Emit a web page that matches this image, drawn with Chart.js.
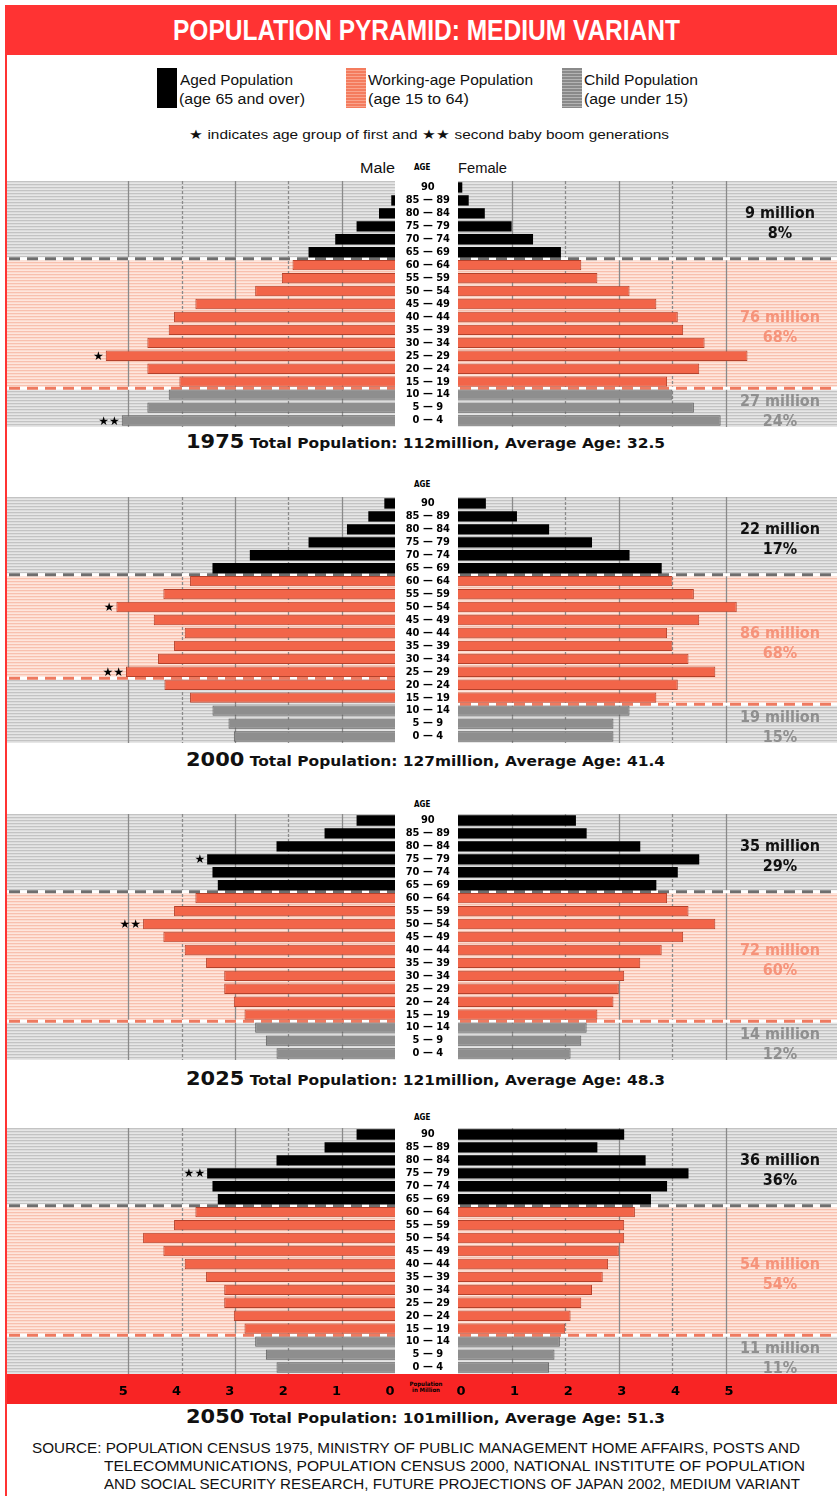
<!DOCTYPE html>
<html lang="en">
<head>
<meta charset="UTF-8">
<title>Population Pyramid: Medium Variant</title>
<style>
  body { margin: 0; width: 837px; height: 1496px; background: #fff; position: relative; overflow: hidden;
         font-family: 'Liberation Sans Narrow', 'Liberation Sans', sans-serif; }
  .abs { position: absolute; white-space: nowrap; line-height: 1; transform-origin: 0 50%; }
  .box { position: absolute; }
  #titlebar { position: absolute; left: 5px; top: 5px; width: 832px; height: 50px; background: #f33; }
  #leftrule { position: absolute; left: 5px; top: 5px; width: 2px; height: 1491px; background: #f33; }
  #axisStrip { position: absolute; left: 7px; top: 1374px; width: 830px; height: 30px; background: #f82424; }
  .title { color: #fff; font-weight: bold; font-size: 30px; }
  .leg { font-size: 14px; color: #111; }
  .swatch { position: absolute; top: 68px; width: 20px; height: 40px; }
  .age { font-family: 'DejaVu Sans Condensed', 'DejaVu Sans', sans-serif; font-weight: bold; font-size: 8px; }
  .cap { font-family: 'DejaVu Sans', sans-serif; font-weight: bold; font-size: 14px; color: #111; }
  .cap b { font-size: 19px; }
  .src { font-size: 15px; color: #111; }
  .pim { font-family: 'DejaVu Sans Condensed', sans-serif; font-weight: bold; font-size: 6px; text-align: center; width: 40px; }
</style>
</head>
<body>
  <div id="titlebar"></div>
  <div id="leftrule"></div>
  <div class="abs title" data-w="507" style="left:173px; top:15px;">POPULATION PYRAMID: MEDIUM VARIANT</div>

  <div class="swatch" style="left:157px; background:#000;"></div>
  <div class="abs leg" data-w="113" style="left:180px; top:73px;">Aged Population</div>
  <div class="abs leg" data-w="126" style="left:179px; top:92px;">(age 65 and over)</div>
  <div class="swatch" style="left:346px; background:repeating-linear-gradient(#f47c5e 0 2px, #f9a48d 2px 3px);"></div>
  <div class="abs leg" data-w="165" style="left:368px; top:73px;">Working-age Population</div>
  <div class="abs leg" data-w="101" style="left:368px; top:92px;">(age 15 to 64)</div>
  <div class="swatch" style="left:562px; background:repeating-linear-gradient(#8a8a8a 0 2px, #b4b4b4 2px 3px);"></div>
  <div class="abs leg" data-w="114" style="left:584px; top:73px;">Child Population</div>
  <div class="abs leg" data-w="104" style="left:584px; top:92px;">(age under 15)</div>
  <div class="abs leg" data-w="480" style="left:189px; top:128px; font-size:13px;">★ indicates age group of first and ★★ second baby boom generations</div>

  <div class="abs leg" data-w="35" style="left:360px; top:161px;">Male</div>
  <div class="abs leg" data-w="49" style="left:458px; top:161px;">Female</div>

  <div id="axisStrip"></div>
  <div class="abs pim" style="left:406px; top:1381px;">Population<br>in Million</div>

  <div class="abs src" data-w="768" style="left:32px; top:1440px;">SOURCE: POPULATION CENSUS 1975, MINISTRY OF PUBLIC MANAGEMENT HOME AFFAIRS, POSTS AND</div>
  <div class="abs src" data-w="701" style="left:104px; top:1458px;">TELECOMMUNICATIONS, POPULATION CENSUS 2000, NATIONAL INSTITUTE OF POPULATION</div>
  <div class="abs src" data-w="696" style="left:104px; top:1476px;">AND SOCIAL SECURITY RESEARCH, FUTURE PROJECTIONS OF JAPAN 2002, MEDIUM VARIANT</div>

  <script src="https://cdn.jsdelivr.net/npm/chart.js@4.4.3/dist/chart.umd.min.js"></script>
  <script>
    // ---- data ----
    const ageGroups = ['90', '85 — 89', '80 — 84', '75 — 79', '70 — 74', '65 — 69', '60 — 64', '55 — 59',
      '50 — 54', '45 — 49', '40 — 44', '35 — 39', '30 — 34', '25 — 29', '20 — 24', '15 — 19',
      '10 — 14', '5 — 9', '0 — 4'];
    const tickValues = [0, 1, 2, 3, 4, 5];

    const years = ['1975', '2000', '2025', '2050'];
    const totalPop = [112, 127, 121, 101];
    const avgAge = [32.5, 41.4, 48.3, 51.3];

    // population in millions, top row (90+) first
    const male1975 = [0, 0.07, 0.3, 0.72, 1.12, 1.62, 1.92, 2.12, 2.62, 3.74, 4.14, 4.24, 4.64, 5.42, 4.64, 4.04, 4.24, 4.64, 5.12];
    const female1975 = [0.08, 0.2, 0.5, 1.0, 1.4, 1.92, 2.3, 2.6, 3.2, 3.7, 4.1, 4.2, 4.6, 5.4, 4.5, 3.9, 4.0, 4.4, 4.9];
    const male2000 = [0.2, 0.5, 0.9, 1.62, 2.72, 3.42, 3.84, 4.34, 5.22, 4.52, 3.94, 4.14, 4.44, 5.04, 4.32, 3.84, 3.42, 3.12, 3.02];
    const female2000 = [0.52, 1.1, 1.7, 2.5, 3.2, 3.8, 4.0, 4.4, 5.2, 4.5, 3.9, 4.0, 4.3, 4.8, 4.1, 3.7, 3.2, 2.9, 2.9];
    const male2025 = [0.72, 1.32, 2.22, 3.52, 3.42, 3.32, 3.74, 4.14, 4.72, 4.34, 3.94, 3.54, 3.2, 3.2, 3.02, 2.82, 2.62, 2.42, 2.22];
    const female2025 = [2.2, 2.4, 3.4, 4.5, 4.1, 3.7, 3.9, 4.3, 4.8, 4.2, 3.8, 3.4, 3.1, 3.0, 2.9, 2.6, 2.4, 2.3, 2.1];
    const male2050 = [0.72, 1.32, 2.22, 3.52, 3.42, 3.32, 3.74, 4.14, 4.72, 4.34, 3.94, 3.54, 3.2, 3.2, 3.02, 2.82, 2.62, 2.42, 2.22];
    const female2050 = [3.1, 2.6, 3.5, 4.3, 3.9, 3.6, 3.3, 3.1, 3.1, 3.0, 2.8, 2.7, 2.5, 2.3, 2.1, 2.0, 1.9, 1.8, 1.7];

    // baby boom markers (row index on the male side)
    const firstBoomRow = [13, 8, 3, null];
    const secondBoomRow = [18, 13, 8, 3];

    const agedTotals = ['9 million', '22 million', '35 million', '36 million'];
    const agedShares = ['8%', '17%', '29%', '36%'];
    const workTotals = ['76 million', '86 million', '72 million', '54 million'];
    const workShares = ['68%', '68%', '60%', '54%'];
    const childTotals = ['27 million', '19 million', '14 million', '11 million'];
    const childShares = ['24%', '15%', '12%', '11%'];

    const maleSeries = [male1975, male2000, male2025, male2050];
    const femaleSeries = [female1975, female2000, female2025, female2050];

    // ---- layout / style ----
    const bandTops = [181, 497, 814, 1128];
    const bandHeight = 246;
    const maleWorkEnd = [16, 14, 16, 16];   // 2000 artwork shades the male side only down to 25-29
    const groupOf = i => (i < 6 ? 0 : i < 16 ? 1 : 2);
    const barFill = ['#000000', '#f26549', '#8e8e8e'];
    const barEdge = ['#000000', '#b4412b', '#5f5f5f'];
    const labelInk = ['#111111', '#f6937a', '#8f8f8f'];

    function stripes(rows) {
      const c = document.createElement('canvas');
      c.width = 4; c.height = rows.length;
      const g = c.getContext('2d');
      rows.forEach((col, r) => { g.fillStyle = col; g.fillRect(0, r, 4, 1); });
      return g.createPattern(c, 'repeat');
    }
    const greyBand = stripes(['#c3c3c3', '#dcdcdc', '#e6e6e6']);
    const pinkBand = stripes(['#f8c0ae', '#fcdbcf', '#fee6dd']);

    const backdrop = {
      id: 'backdrop',
      beforeDatasetsDraw(chart, args, o) {
        const { ctx, chartArea: a, scales: { x, y } } = chart;
        const n = ageGroups.length;
        const edge = i => (i <= 0 ? a.top : i >= n ? a.bottom : (y.getPixelForValue(i - 1) + y.getPixelForValue(i)) / 2);
        ctx.save();
        ctx.fillStyle = greyBand;
        ctx.fillRect(a.left, a.top, a.width, a.height);
        ctx.fillStyle = pinkBand;
        ctx.fillRect(a.left, edge(6), a.width, edge(o.workEnd) - edge(6));

        // vertical grid at 1..5 million
        tickValues.slice(1).forEach(v => {
          const px = Math.round(x.getPixelForValue(v)) + 0.5;
          ctx.strokeStyle = '#8a8a8a';
          ctx.lineWidth = 1.3;
          ctx.setLineDash(v % 2 ? [] : [3, 2]);
          ctx.beginPath(); ctx.moveTo(px, a.top); ctx.lineTo(px, a.bottom); ctx.stroke();
        });

        // dashed boundaries between age groups
        [[edge(6), '#6e6e6e'], [edge(o.workEnd), '#ee7a60']].forEach(([yy, col]) => {
          ctx.setLineDash([]);
          ctx.strokeStyle = '#fff'; ctx.lineWidth = 3;
          ctx.beginPath(); ctx.moveTo(a.left, yy); ctx.lineTo(a.right, yy); ctx.stroke();
          ctx.setLineDash([11, 7]);
          ctx.strokeStyle = col;
          ctx.beginPath(); ctx.moveTo(a.left + 2, yy); ctx.lineTo(a.right, yy); ctx.stroke();
        });
        ctx.restore();
      },
      afterDatasetsDraw(chart, args, o) {
        const { ctx, chartArea: a, scales: { x, y } } = chart;
        const vals = chart.data.datasets[0].data;
        ctx.save();
        ctx.fillStyle = '#000';
        ctx.font = 'bold 12px "DejaVu Sans"';
        ctx.textAlign = 'right';
        ctx.textBaseline = 'middle';
        (o.stars || []).forEach(([row, mark]) => {
          if (row === null) return;
          ctx.fillText(mark, x.getPixelForValue(vals[row]) - 2, y.getPixelForValue(row) + 1);
        });
        if (o.notes) {
          const n = ageGroups.length;
          const edge = i => (i <= 0 ? a.top : i >= n ? a.bottom : (y.getPixelForValue(i - 1) + y.getPixelForValue(i)) / 2);
          const spans = [[0, 6], [6, 16], [16, n]];
          ctx.textAlign = 'center';
          ctx.font = 'bold 16px "DejaVu Sans Condensed", "DejaVu Sans"';
          spans.forEach(([s, e], g) => {
            const cy = (edge(s) + edge(e)) / 2;
            ctx.fillStyle = labelInk[g];
            ctx.fillText(o.notes[g][0], a.right - 57, cy - 6);
            ctx.fillText(o.notes[g][1], a.right - 57, cy + 14);
          });
        }
        ctx.restore();
      }
    };

    function half(k, isMale) {
      const last = k === years.length - 1;
      const wrap = document.createElement('div');
      wrap.className = 'box';
      wrap.style.left = (isMale ? 7 : 395) + 'px';
      wrap.style.top = bandTops[k] + 'px';
      wrap.style.width = (isMale ? 388 : 442) + 'px';
      wrap.style.height = (bandHeight + (last ? 30 : 0)) + 'px';
      const cv = document.createElement('canvas');
      wrap.appendChild(cv);
      document.body.appendChild(wrap);

      const values = isMale ? maleSeries[k] : femaleSeries[k];
      return new Chart(cv, {
        type: 'bar',
        data: {
          labels: ageGroups,
          datasets: [{
            data: values,
            backgroundColor: ageGroups.map((_, i) => barFill[groupOf(i)]),
            borderColor: ageGroups.map((_, i) => barEdge[groupOf(i)]),
            borderWidth: ageGroups.map((_, i) => (groupOf(i) ? 1 : 0)),
            borderSkipped: 'start',
            barPercentage: 0.8,
            categoryPercentage: 1
          }]
        },
        options: {
          indexAxis: 'y',
          responsive: true,
          maintainAspectRatio: false,
          animation: false,
          layout: { padding: 0 },
          plugins: {
            legend: { display: false },
            tooltip: { enabled: false },
            backdrop: {
              workEnd: isMale ? maleWorkEnd[k] : 16,
              stars: isMale ? [[firstBoomRow[k], '★'], [secondBoomRow[k], '★★']] : [],
              notes: isMale ? null : [
                [agedTotals[k], agedShares[k]],
                [workTotals[k], workShares[k]],
                [childTotals[k], childShares[k]]
              ]
            }
          },
          scales: {
            x: {
              type: 'linear',
              min: 0,
              max: isMale ? 7.27 : 7.07,
              reverse: isMale,
              display: last,
              grid: { display: false, drawTicks: false },
              border: { display: false },
              afterBuildTicks: s => { s.ticks = tickValues.map(v => ({ value: v })); },
              afterFit: s => { if (last) { s.height = 30; s.paddingLeft = 0; s.paddingRight = 0; } },
              ticks: {
                autoSkip: false, maxRotation: 0, padding: 10, color: '#000',
                labelOffset: isMale ? -5 : 3,
                font: { family: '"DejaVu Sans"', weight: 'bold', size: 13 }
              }
            },
            y: {
              display: !isMale,
              position: 'left',
              grid: { display: false },
              border: { display: false },
              afterFit: s => { if (!isMale) { s.width = 63; s.paddingTop = 0; s.paddingBottom = 0; } },
              ticks: {
                autoSkip: false, crossAlign: 'center', padding: 0, color: '#000',
                font: { family: '"DejaVu Sans Condensed", "DejaVu Sans"', weight: 'bold', size: 11 }
              }
            }
          }
        },
        plugins: [backdrop]
      });
    }

    const captionY = [443, 761, 1080, 1418];
    const ageHeadY = [168, 485, 805, 1118];
    years.forEach((yr, k) => {
      half(k, true);
      half(k, false);
      const cap = document.createElement('div');
      cap.className = 'abs cap';
      cap.dataset.w = 479;
      cap.style.left = '186px';
      cap.style.top = (captionY[k] - 11) + 'px';
      cap.innerHTML = '<b>' + yr + '</b> Total Population: ' + totalPop[k] + 'million, Average Age: ' + avgAge[k];
      document.body.appendChild(cap);
      const head = document.createElement('div');
      head.className = 'abs age';
      head.style.left = '414px';
      head.style.top = (ageHeadY[k] - 4) + 'px';
      head.textContent = 'AGE';
      document.body.appendChild(head);
    });

    // squeeze text lines to the widths of the original artwork
    document.querySelectorAll('[data-w]').forEach(el => {
      const w = el.getBoundingClientRect().width;
      if (w > 0) el.style.transform = 'scaleX(' + (el.dataset.w / w) + ')';
    });
  </script>
</body>
</html>
